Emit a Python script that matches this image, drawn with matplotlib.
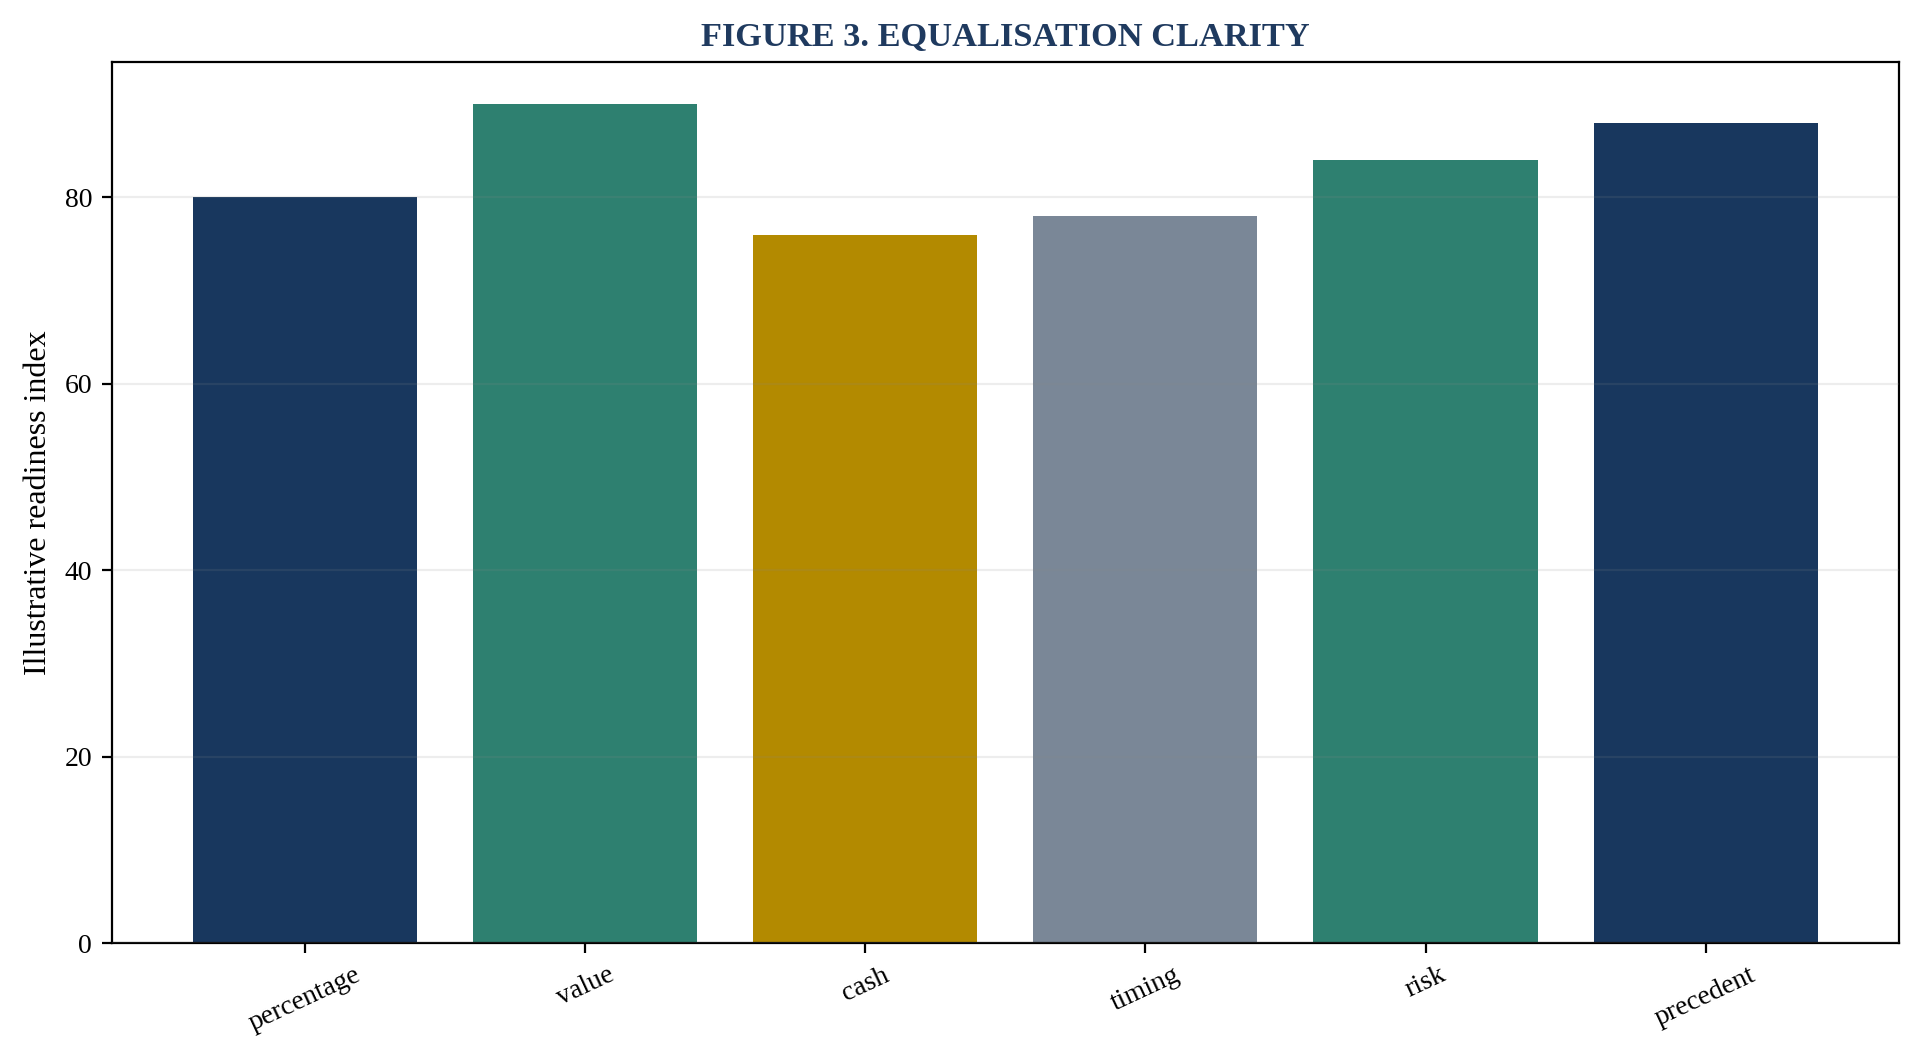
import matplotlib
matplotlib.use("Agg")
import matplotlib.pyplot as plt

categories = ["percentage", "value", "cash", "timing", "risk", "precedent"]
values = [80, 90, 76, 78, 84, 88]
colors = ["#18375e", "#2e8070", "#b38a00", "#7a8797", "#2e8070", "#18375e"]

plt.rcParams['font.family'] = ['Liberation Serif', 'DejaVu Serif']

fig = plt.figure(figsize=(9.62, 5.275), dpi=200)
ax = fig.add_axes([0.058, 0.106, 0.929, 0.835])

ax.bar(range(len(categories)), values, width=0.8, color=colors, zorder=1)
ax.set_ylim(0, max(values) * 1.05)
ax.set_xticks(range(len(categories)))
ax.set_xticklabels(categories, rotation=25, fontsize=10)
ax.tick_params(axis='y', labelsize=10)
ax.set_yticks([0, 20, 40, 60, 80])
ax.grid(axis='y', color='#888888', alpha=0.15, linewidth=0.8, zorder=3)
ax.set_axisbelow(False)
ax.set_ylabel("Illustrative readiness index", fontsize=11.5)
ax.set_title("FIGURE 3. EQUALISATION CLARITY", fontsize=12.4, fontweight='bold', color='#1f3a5f', pad=6)

fig.savefig("out.png", dpi=200)
